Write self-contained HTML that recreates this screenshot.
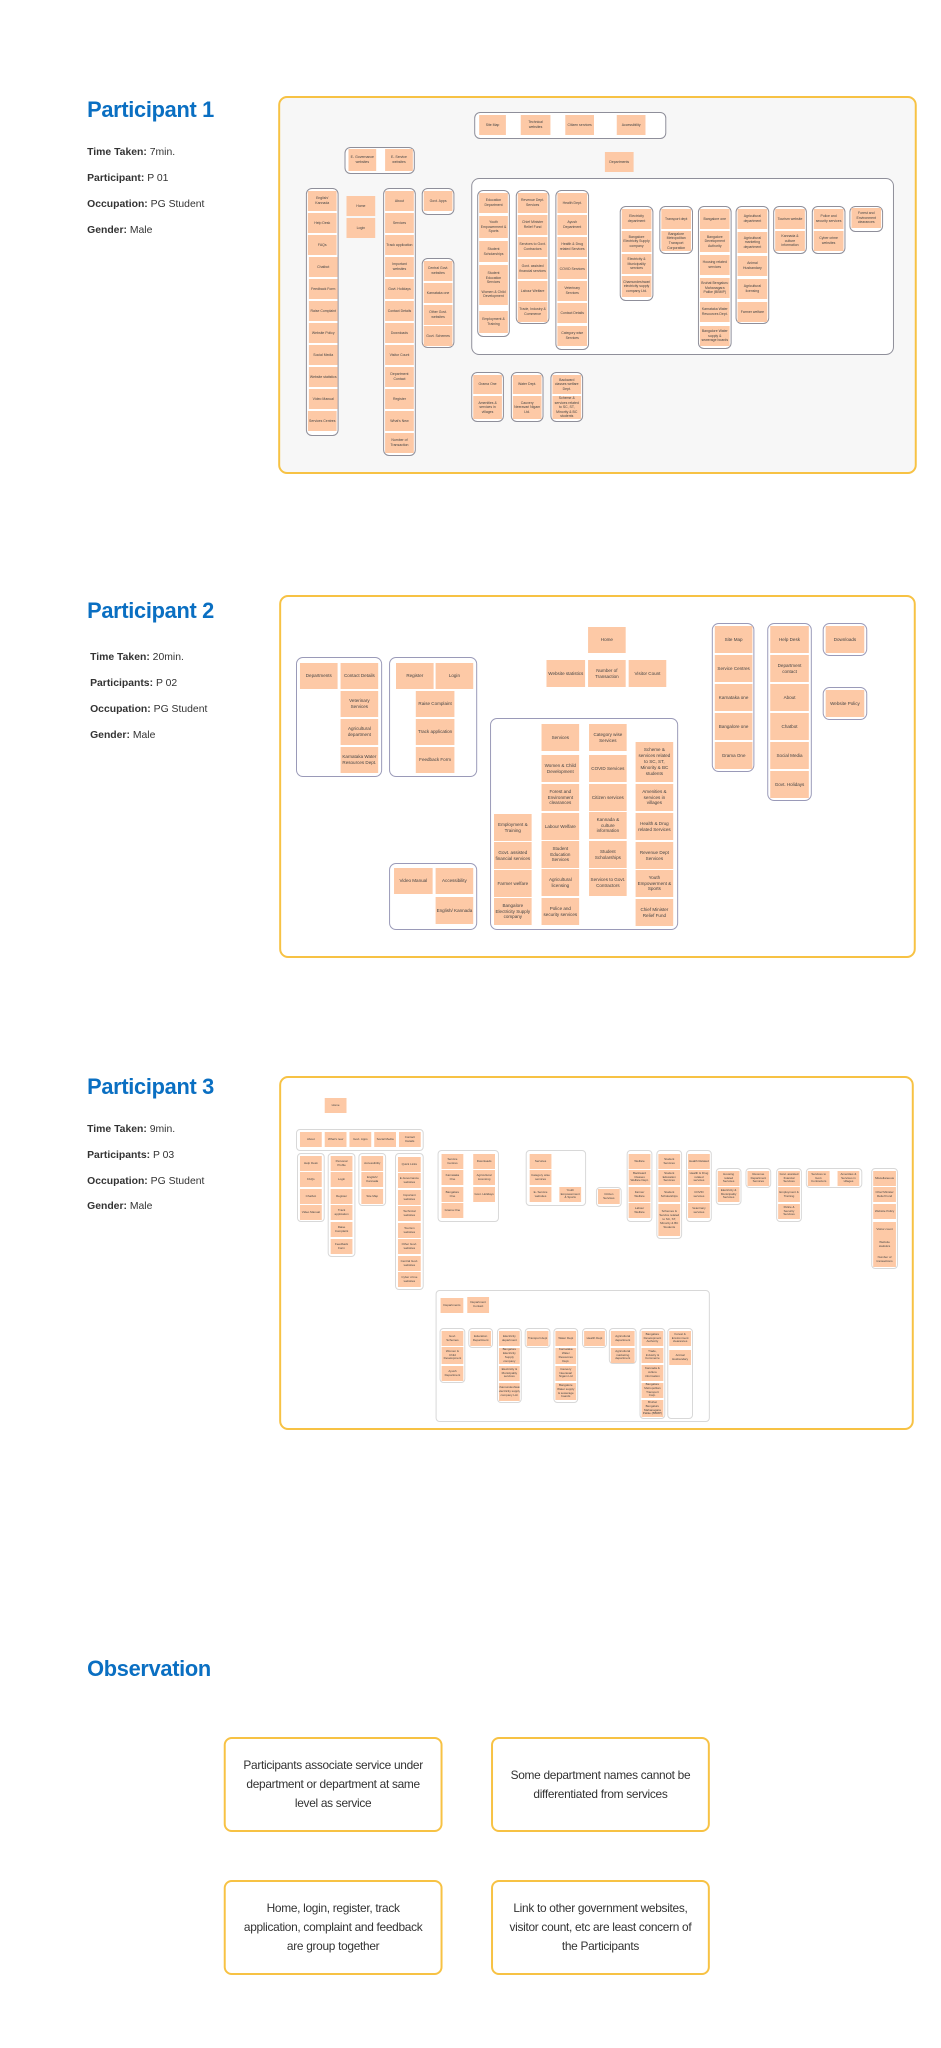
<!DOCTYPE html>
<html><head><meta charset="utf-8"><style>
*{margin:0;padding:0;box-sizing:border-box}
body{width:941px;height:2048px;background:#fff;position:relative;font-family:"Liberation Sans",sans-serif;overflow:hidden}
#w{position:absolute;left:0;top:0;width:941px;height:2048px;transform:scaleX(0.99);transform-origin:0 0}
.t{position:absolute;left:88px;color:#0a6fc2;font:bold 22px "Liberation Sans",sans-serif;letter-spacing:-0.3px}
.i{position:absolute;left:88px;font-size:10.5px;color:#333}
.i b{font-weight:bold}
.p{position:absolute;border:2px solid #f7c244;border-radius:9px}
.g{position:absolute;border:1px solid #8f8f9a;border-radius:6px;background:#fff}
.g2{position:absolute;border:1px solid #9a9ab8;border-radius:7px;background:#fff}
.g3{position:absolute;border:1px solid #d8d8d8;border-radius:4px;background:#fff}
.n{position:absolute;background:#fdc9a6;display:flex;align-items:center;justify-content:center;text-align:center;color:#444;font-size:3.5px;line-height:1.3;overflow:hidden;padding:1px}
.m{font-size:4.6px}
.s{font-size:3px}
.o{position:absolute;border:2px solid #f7c244;border-radius:8px;display:flex;align-items:center;justify-content:center;text-align:center;font-size:12px;letter-spacing:-0.3px;line-height:19px;color:#333;padding:0 14px}
</style></head><body><div id="w">

<!-- Participant 1 -->
<div class="t" style="top:97px">Participant 1</div>
<div class="i" style="top:146px"><b>Time Taken:</b> 7min.</div>
<div class="i" style="top:172px"><b>Participant:</b> P 01</div>
<div class="i" style="top:198px"><b>Occupation:</b> PG Student</div>
<div class="i" style="top:224px"><b>Gender:</b> Male</div>
<div class="p" style="left:281px;top:96px;width:645px;height:378px;background:#f7f7f7"></div>

<div class="g" style="left:479px;top:112px;width:194px;height:27px"></div>
<div class="n" style="left:484px;top:115px;width:27px;height:20px">Site Map</div>
<div class="n" style="left:526px;top:115px;width:30px;height:20px">Technical websites</div>
<div class="n" style="left:571px;top:115px;width:29px;height:20px">Citizen services</div>
<div class="n" style="left:623px;top:115px;width:29px;height:20px">Accessibility</div>

<div class="g" style="left:348px;top:147px;width:71px;height:27px"></div>
<div class="n" style="left:352px;top:149px;width:28px;height:22px">E- Governance websites</div>
<div class="n" style="left:389px;top:149px;width:28px;height:22px">E- Service websites</div>
<div class="n" style="left:611px;top:152px;width:29px;height:20px">Departments</div>

<div class="g" style="left:309px;top:188px;width:33px;height:248px"></div>
<div class="n" style="left:311px;top:191px;width:29px;height:20px">English/ Kannada</div>
<div class="n" style="left:311px;top:213px;width:29px;height:20px">Help Desk</div>
<div class="n" style="left:311px;top:235px;width:29px;height:20px">FAQs</div>
<div class="n" style="left:312px;top:257px;width:29px;height:20px">Chatbot</div>
<div class="n" style="left:312px;top:279px;width:29px;height:20px">Feedback Form</div>
<div class="n" style="left:312px;top:301px;width:29px;height:20px">Raise Complaint</div>
<div class="n" style="left:312px;top:323px;width:29px;height:20px">Website Policy</div>
<div class="n" style="left:312px;top:345px;width:29px;height:20px">Social Media</div>
<div class="n" style="left:312px;top:367px;width:29px;height:20px">Website statistics</div>
<div class="n" style="left:312px;top:389px;width:29px;height:20px">Video Manual</div>
<div class="n" style="left:311px;top:411px;width:29px;height:20px">Services Centres</div>

<div class="n" style="left:350px;top:196px;width:29px;height:20px">Home</div>
<div class="n" style="left:350px;top:218px;width:29px;height:20px">Login</div>

<div class="g" style="left:387px;top:188px;width:33px;height:268px"></div>
<div class="n" style="left:389px;top:191px;width:29px;height:20px">About</div>
<div class="n" style="left:389px;top:213px;width:29px;height:20px">Services</div>
<div class="n" style="left:389px;top:235px;width:29px;height:20px">Track application</div>
<div class="n" style="left:389px;top:257px;width:29px;height:20px">Important websites</div>
<div class="n" style="left:389px;top:279px;width:29px;height:20px">Govt. Holidays</div>
<div class="n" style="left:389px;top:301px;width:29px;height:20px">Contact Details</div>
<div class="n" style="left:389px;top:323px;width:29px;height:20px">Downloads</div>
<div class="n" style="left:389px;top:345px;width:29px;height:20px">Visitor Count</div>
<div class="n" style="left:389px;top:367px;width:29px;height:20px">Department Contact</div>
<div class="n" style="left:389px;top:389px;width:29px;height:20px">Register</div>
<div class="n" style="left:389px;top:411px;width:29px;height:20px">What's New</div>
<div class="n" style="left:389px;top:433px;width:29px;height:20px">Number of Transaction</div>

<div class="g" style="left:426px;top:188px;width:33px;height:27px"></div>
<div class="n" style="left:428px;top:191px;width:29px;height:20px">Govt. Apps</div>
<div class="g" style="left:426px;top:258px;width:33px;height:90px"></div>
<div class="n" style="left:428px;top:261px;width:29px;height:20px">Central Govt. websites</div>
<div class="n" style="left:428px;top:283px;width:29px;height:20px">Karnataka one</div>
<div class="n" style="left:428px;top:305px;width:29px;height:20px">Other Govt. websites</div>
<div class="n" style="left:428px;top:326px;width:29px;height:20px">Govt. Schemes</div>

<div class="g" style="left:476px;top:178px;width:427px;height:177px;border-radius:8px"></div>
<div class="g" style="left:482px;top:190px;width:33px;height:147px"></div>
<div class="n" style="left:484px;top:193px;width:29px;height:20px">Education Department</div>
<div class="n" style="left:484px;top:216px;width:29px;height:22px">Youth Empowerment &amp; Sports</div>
<div class="n" style="left:484px;top:241px;width:29px;height:21px">Student Scholarships</div>
<div class="n" style="left:484px;top:265px;width:29px;height:40px">Student Education Services<br><br>Women &amp; Child Development</div>
<div class="n" style="left:484px;top:311px;width:29px;height:22px">Employment &amp; Training</div>
<div class="g" style="left:521px;top:190px;width:34px;height:134px"></div>
<div class="n" style="left:523px;top:193px;width:30px;height:20px">Revenue Dept. Services</div>
<div class="n" style="left:523px;top:215px;width:30px;height:20px">Chief Minister Relief Fund</div>
<div class="n" style="left:523px;top:237px;width:30px;height:20px">Services to Govt. Contractors</div>
<div class="n" style="left:523px;top:259px;width:30px;height:20px">Govt. assisted financial services</div>
<div class="n" style="left:523px;top:281px;width:30px;height:20px">Labour Welfare</div>
<div class="n" style="left:523px;top:302px;width:30px;height:20px">Trade, Industry &amp; Commerce</div>
<div class="g" style="left:561px;top:190px;width:34px;height:160px"></div>
<div class="n" style="left:563px;top:193px;width:30px;height:20px">Health Dept.</div>
<div class="n" style="left:563px;top:215px;width:30px;height:20px">Ayush Department</div>
<div class="n" style="left:563px;top:237px;width:30px;height:20px">Health &amp; Drug related Services</div>
<div class="n" style="left:563px;top:259px;width:30px;height:20px">COVID Services</div>
<div class="n" style="left:563px;top:281px;width:30px;height:20px">Veterinary Services</div>
<div class="n" style="left:563px;top:303px;width:30px;height:20px">Contact Details</div>
<div class="n" style="left:563px;top:326px;width:30px;height:20px">Category wise Services</div>

<div class="g" style="left:626px;top:206px;width:34px;height:95px"></div>
<div class="n" style="left:628px;top:209px;width:30px;height:20px">Electricity department</div>
<div class="n" style="left:628px;top:231px;width:30px;height:21px">Bangalore Electricity Supply company</div>
<div class="n" style="left:628px;top:254px;width:30px;height:20px">Electricity &amp; Municipality services</div>
<div class="n" style="left:628px;top:276px;width:30px;height:21px">Chamundeshwari electricity supply company Ltd.</div>
<div class="g" style="left:666px;top:206px;width:34px;height:48px"></div>
<div class="n" style="left:668px;top:209px;width:30px;height:20px">Transport dept</div>
<div class="n" style="left:668px;top:231px;width:30px;height:20px">Bangalore Metropolitan Transport Corporation</div>
<div class="g" style="left:705px;top:206px;width:34px;height:143px"></div>
<div class="n" style="left:707px;top:209px;width:30px;height:20px">Bangalore one</div>
<div class="n" style="left:707px;top:231px;width:30px;height:21px">Bangalore Development Authority</div>
<div class="n" style="left:707px;top:255px;width:30px;height:20px">Housing related services</div>
<div class="n" style="left:707px;top:278px;width:30px;height:20px">Bruhat Bengaluru Mahanagara Palike (BBMP)</div>
<div class="n" style="left:707px;top:302px;width:30px;height:20px">Karnataka Water Resources Dept.</div>
<div class="n" style="left:707px;top:326px;width:30px;height:20px">Bangalore Water supply &amp; sewerage boards</div>
<div class="g" style="left:743px;top:206px;width:34px;height:118px"></div>
<div class="n" style="left:745px;top:209px;width:30px;height:20px">Agricultural department</div>
<div class="n" style="left:745px;top:232px;width:30px;height:21px">Agricultural marketing department</div>
<div class="n" style="left:745px;top:256px;width:30px;height:20px">Animal Husbandary</div>
<div class="n" style="left:745px;top:279px;width:30px;height:20px">Agricultural licensing</div>
<div class="n" style="left:745px;top:302px;width:30px;height:20px">Farmer welfare</div>
<div class="g" style="left:781px;top:206px;width:34px;height:48px"></div>
<div class="n" style="left:783px;top:209px;width:30px;height:20px">Tourism website</div>
<div class="n" style="left:783px;top:231px;width:30px;height:20px">Kannada &amp; culture information</div>
<div class="g" style="left:820px;top:206px;width:34px;height:48px"></div>
<div class="n" style="left:822px;top:209px;width:30px;height:20px">Police and security services</div>
<div class="n" style="left:822px;top:231px;width:30px;height:20px">Cyber crime websites</div>
<div class="g" style="left:858px;top:206px;width:34px;height:26px"></div>
<div class="n" style="left:860px;top:208px;width:30px;height:20px">Forest and Environment clearances</div>

<div class="g" style="left:476px;top:372px;width:33px;height:50px"></div>
<div class="n" style="left:478px;top:375px;width:29px;height:19px">Grama One</div>
<div class="n" style="left:478px;top:396px;width:29px;height:23px">Amenities &amp; services in villages</div>
<div class="g" style="left:516px;top:372px;width:33px;height:50px"></div>
<div class="n" style="left:518px;top:375px;width:29px;height:19px">Water Dept.</div>
<div class="n" style="left:518px;top:396px;width:29px;height:23px">Cauvery Neeravari Nigam Ltd.</div>
<div class="g" style="left:556px;top:372px;width:33px;height:50px"></div>
<div class="n" style="left:558px;top:375px;width:29px;height:19px">Backward classes welfare Dept.</div>
<div class="n" style="left:558px;top:396px;width:29px;height:23px">Scheme &amp; services related to SC, ST, Minority &amp; BC students</div>

<!-- Participant 2 -->
<div class="t" style="top:598px">Participant 2</div>
<div class="i" style="left:91px;top:651px"><b>Time Taken:</b> 20min.</div>
<div class="i" style="left:91px;top:677px"><b>Participants:</b> P 02</div>
<div class="i" style="left:91px;top:703px"><b>Occupation:</b> PG Student</div>
<div class="i" style="left:91px;top:729px"><b>Gender:</b> Male</div>
<div class="p" style="left:282px;top:595px;width:643px;height:363px;background:#fff"></div>

<div class="n m" style="left:594px;top:627px;width:38px;height:26px">Home</div>
<div class="n m" style="left:552px;top:660px;width:39px;height:27px">Website statistics</div>
<div class="n m" style="left:594px;top:660px;width:38px;height:27px">Number of Transaction</div>
<div class="n m" style="left:635px;top:660px;width:38px;height:27px">Visitor Count</div>

<div class="g2" style="left:299px;top:657px;width:87px;height:120px"></div>
<div class="n m" style="left:303px;top:663px;width:38px;height:26px">Departments</div>
<div class="n m" style="left:344px;top:663px;width:38px;height:26px">Contact Details</div>
<div class="n m" style="left:344px;top:691px;width:38px;height:26px">Veterinary Services</div>
<div class="n m" style="left:344px;top:719px;width:38px;height:26px">Agricultural department</div>
<div class="n m" style="left:344px;top:747px;width:38px;height:26px">Karnataka Water Resources Dept.</div>

<div class="g2" style="left:393px;top:657px;width:89px;height:120px"></div>
<div class="n m" style="left:400px;top:663px;width:38px;height:26px">Register</div>
<div class="n m" style="left:440px;top:663px;width:38px;height:26px">Login</div>
<div class="n m" style="left:420px;top:691px;width:39px;height:26px">Raise Complaint</div>
<div class="n m" style="left:420px;top:719px;width:39px;height:26px">Track application</div>
<div class="n m" style="left:420px;top:747px;width:39px;height:26px">Feedback Form</div>

<div class="g2" style="left:393px;top:863px;width:89px;height:67px"></div>
<div class="n m" style="left:398px;top:868px;width:39px;height:26px">Video Manual</div>
<div class="n m" style="left:440px;top:868px;width:38px;height:26px">Accessibility</div>
<div class="n m" style="left:440px;top:897px;width:38px;height:27px">English/ Kannada</div>

<div class="g2" style="left:495px;top:718px;width:190px;height:212px"></div>
<div class="n m" style="left:547px;top:724px;width:38px;height:27px">Services</div>
<div class="n m" style="left:547px;top:755px;width:38px;height:27px">Women &amp; Child Development</div>
<div class="n m" style="left:547px;top:784px;width:38px;height:27px">Forest and Environment clearances</div>
<div class="n m" style="left:547px;top:813px;width:38px;height:27px">Labour Welfare</div>
<div class="n m" style="left:547px;top:841px;width:38px;height:27px">Student Education Services</div>
<div class="n m" style="left:547px;top:869px;width:38px;height:27px">Agricultural licensing</div>
<div class="n m" style="left:547px;top:898px;width:38px;height:27px">Police and security services</div>
<div class="n m" style="left:595px;top:724px;width:38px;height:27px">Category wise Services</div>
<div class="n m" style="left:595px;top:755px;width:38px;height:27px">COVID Services</div>
<div class="n m" style="left:595px;top:784px;width:38px;height:27px">Citizen services</div>
<div class="n m" style="left:595px;top:812px;width:38px;height:27px">Kannada &amp; culture information</div>
<div class="n m" style="left:595px;top:841px;width:38px;height:27px">Student Scholarships</div>
<div class="n m" style="left:595px;top:869px;width:38px;height:27px">Services to Govt. Contractors</div>
<div class="n m" style="left:642px;top:742px;width:38px;height:40px">Scheme &amp; services related to SC, ST, Minority &amp; BC students</div>
<div class="n m" style="left:642px;top:784px;width:38px;height:27px">Amenities &amp; services in villages</div>
<div class="n m" style="left:642px;top:813px;width:38px;height:27px">Health &amp; Drug related Services</div>
<div class="n m" style="left:642px;top:842px;width:38px;height:27px">Revenue Dept Services</div>
<div class="n m" style="left:642px;top:870px;width:38px;height:27px">Youth Empowerment &amp; Sports</div>
<div class="n m" style="left:642px;top:899px;width:38px;height:27px">Chief Minister Relief Fund</div>
<div class="n m" style="left:499px;top:814px;width:38px;height:27px">Employment &amp; Training</div>
<div class="n m" style="left:499px;top:842px;width:38px;height:27px">Govt. assisted financial services</div>
<div class="n m" style="left:499px;top:870px;width:38px;height:27px">Farmer welfare</div>
<div class="n m" style="left:499px;top:898px;width:38px;height:27px">Bangalore Electricity Supply company</div>

<div class="g2" style="left:719px;top:623px;width:43px;height:149px"></div>
<div class="n m" style="left:722px;top:626px;width:38px;height:27px">Site Map</div>
<div class="n m" style="left:722px;top:655px;width:38px;height:27px">Service Centres</div>
<div class="n m" style="left:722px;top:684px;width:38px;height:27px">Karnataka one</div>
<div class="n m" style="left:722px;top:713px;width:38px;height:27px">Bangalore one</div>
<div class="n m" style="left:722px;top:742px;width:38px;height:27px">Grama One</div>
<div class="g2" style="left:775px;top:623px;width:45px;height:178px"></div>
<div class="n m" style="left:778px;top:626px;width:39px;height:27px">Help Desk</div>
<div class="n m" style="left:778px;top:655px;width:39px;height:27px">Department contact</div>
<div class="n m" style="left:778px;top:684px;width:39px;height:27px">About</div>
<div class="n m" style="left:778px;top:713px;width:39px;height:27px">Chatbot</div>
<div class="n m" style="left:778px;top:742px;width:39px;height:27px">Social Media</div>
<div class="n m" style="left:778px;top:771px;width:39px;height:27px">Govt. Holidays</div>
<div class="g2" style="left:831px;top:623px;width:45px;height:33px"></div>
<div class="n m" style="left:834px;top:626px;width:39px;height:27px">Downloads</div>
<div class="g2" style="left:831px;top:687px;width:45px;height:33px"></div>
<div class="n m" style="left:834px;top:690px;width:39px;height:27px">Website Policy</div>

<!-- Participant 3 -->
<div class="t" style="top:1074px">Participant 3</div>
<div class="i" style="top:1123px"><b>Time Taken:</b> 9min.</div>
<div class="i" style="top:1149px"><b>Participants:</b> P 03</div>
<div class="i" style="top:1175px"><b>Occupation:</b> PG Student</div>
<div class="i" style="top:1200px"><b>Gender:</b> Male</div>
<div class="p" style="left:282px;top:1076px;width:641px;height:354px;background:#fff"></div>

<div class="n s" style="left:328px;top:1098px;width:22px;height:15px">Home</div>
<div class="g3" style="left:299px;top:1129px;width:129px;height:22px"></div>
<div class="n s" style="left:303px;top:1132px;width:22px;height:15px">About</div>
<div class="n s" style="left:328px;top:1132px;width:22px;height:15px">What's new</div>
<div class="n s" style="left:353px;top:1132px;width:22px;height:15px">Govt. Apps</div>
<div class="n s" style="left:378px;top:1132px;width:22px;height:15px">Social Media</div>
<div class="n s" style="left:403px;top:1132px;width:22px;height:15px">Contact Details</div>

<div class="g3" style="left:300px;top:1153px;width:28px;height:69px"></div>
<div class="n s" style="left:303px;top:1156px;width:22px;height:15px">Help Desk</div>
<div class="n s" style="left:303px;top:1172px;width:22px;height:15px">FAQs</div>
<div class="n s" style="left:303px;top:1189px;width:22px;height:15px">Chatbot</div>
<div class="n s" style="left:303px;top:1205px;width:22px;height:15px">Video Manual</div>
<div class="g3" style="left:331px;top:1153px;width:28px;height:104px"></div>
<div class="n s" style="left:334px;top:1156px;width:22px;height:15px">Personal Profile</div>
<div class="n s" style="left:334px;top:1172px;width:22px;height:15px">Login</div>
<div class="n s" style="left:334px;top:1189px;width:22px;height:15px">Register</div>
<div class="n s" style="left:334px;top:1205px;width:22px;height:15px">Track application</div>
<div class="n s" style="left:334px;top:1222px;width:22px;height:15px">Raise Complaint</div>
<div class="n s" style="left:334px;top:1239px;width:22px;height:15px">Feedback Form</div>
<div class="g3" style="left:362px;top:1153px;width:28px;height:53px"></div>
<div class="n s" style="left:365px;top:1156px;width:22px;height:15px">Accessibility</div>
<div class="n s" style="left:365px;top:1172px;width:22px;height:15px">English/ Kannada</div>
<div class="n s" style="left:365px;top:1189px;width:22px;height:15px">Site Map</div>
<div class="g3" style="left:399px;top:1153px;width:29px;height:137px"></div>
<div class="n s" style="left:402px;top:1157px;width:23px;height:15px">Quick Links</div>
<div class="n s" style="left:402px;top:1173px;width:23px;height:15px">E-Governance websites</div>
<div class="n s" style="left:402px;top:1190px;width:23px;height:15px">Important websites</div>
<div class="n s" style="left:402px;top:1206px;width:23px;height:15px">Technical websites</div>
<div class="n s" style="left:402px;top:1223px;width:23px;height:15px">Tourism websites</div>
<div class="n s" style="left:402px;top:1239px;width:23px;height:15px">Other Govt. websites</div>
<div class="n s" style="left:402px;top:1256px;width:23px;height:15px">Central Govt. websites</div>
<div class="n s" style="left:402px;top:1272px;width:23px;height:15px">Cyber crime websites</div>

<div class="g3" style="left:442px;top:1150px;width:62px;height:72px"></div>
<div class="n s" style="left:446px;top:1154px;width:22px;height:15px">Service Centres</div>
<div class="n s" style="left:446px;top:1170px;width:22px;height:15px">Karnataka One</div>
<div class="n s" style="left:446px;top:1187px;width:22px;height:15px">Bangalore One</div>
<div class="n s" style="left:446px;top:1203px;width:22px;height:15px">Grama One</div>
<div class="n s" style="left:478px;top:1154px;width:22px;height:15px">Downloads</div>
<div class="n s" style="left:478px;top:1170px;width:22px;height:15px">Agricultural Licensing</div>
<div class="n s" style="left:478px;top:1187px;width:22px;height:15px">Govt. Holidays</div>
<div class="g3" style="left:531px;top:1150px;width:61px;height:56px"></div>
<div class="n s" style="left:535px;top:1154px;width:22px;height:15px">Services</div>
<div class="n s" style="left:535px;top:1170px;width:22px;height:15px">Category wise services</div>
<div class="n s" style="left:535px;top:1187px;width:22px;height:15px">E- Service websites</div>
<div class="n s" style="left:565px;top:1187px;width:22px;height:15px">Youth Empowerment &amp; Sports</div>
<div class="g3" style="left:602px;top:1187px;width:26px;height:20px"></div>
<div class="n s" style="left:604px;top:1189px;width:22px;height:15px">Citizen Services</div>
<div class="g3" style="left:633px;top:1150px;width:26px;height:72px"></div>
<div class="n s" style="left:635px;top:1154px;width:22px;height:15px">Welfare</div>
<div class="n s" style="left:635px;top:1170px;width:22px;height:15px">Backward Classes Welfare Dept.</div>
<div class="n s" style="left:635px;top:1187px;width:22px;height:15px">Farmer Welfare</div>
<div class="n s" style="left:635px;top:1203px;width:22px;height:15px">Labour Welfare</div>
<div class="g3" style="left:663px;top:1150px;width:26px;height:89px"></div>
<div class="n s" style="left:665px;top:1154px;width:22px;height:15px">Student Services</div>
<div class="n s" style="left:665px;top:1170px;width:22px;height:15px">Student Education Services</div>
<div class="n s" style="left:665px;top:1187px;width:22px;height:15px">Student Scholarships</div>
<div class="n s" style="left:665px;top:1204px;width:22px;height:32px">Schemes &amp; Service related to SC, ST, Minority &amp; BC Students</div>
<div class="g3" style="left:693px;top:1150px;width:26px;height:72px"></div>
<div class="n s" style="left:695px;top:1154px;width:22px;height:15px">Health Related</div>
<div class="n s" style="left:695px;top:1170px;width:22px;height:15px">Health &amp; Drug related services</div>
<div class="n s" style="left:695px;top:1187px;width:22px;height:15px">COVID services</div>
<div class="n s" style="left:695px;top:1203px;width:22px;height:15px">Veterinary services</div>
<div class="g3" style="left:723px;top:1168px;width:26px;height:37px"></div>
<div class="n s" style="left:725px;top:1171px;width:22px;height:15px">Housing related Services</div>
<div class="n s" style="left:725px;top:1187px;width:22px;height:15px">Electricity &amp; Municipality Services</div>
<div class="g3" style="left:753px;top:1168px;width:26px;height:20px"></div>
<div class="n s" style="left:755px;top:1171px;width:22px;height:15px">Revenue Department Services</div>
<div class="g3" style="left:784px;top:1168px;width:26px;height:54px"></div>
<div class="n s" style="left:786px;top:1171px;width:22px;height:15px">Govt. assisted financial Services</div>
<div class="n s" style="left:786px;top:1187px;width:22px;height:15px">Employment &amp; Training</div>
<div class="n s" style="left:786px;top:1204px;width:22px;height:15px">Police &amp; Security Services</div>
<div class="g3" style="left:814px;top:1168px;width:57px;height:20px"></div>
<div class="n s" style="left:816px;top:1171px;width:22px;height:15px">Services to Govt. Contractors</div>
<div class="n s" style="left:846px;top:1171px;width:22px;height:15px">Amenities &amp; Services in villages</div>
<div class="g3" style="left:880px;top:1168px;width:27px;height:101px"></div>
<div class="n s" style="left:882px;top:1171px;width:23px;height:15px">Miscellaneous</div>
<div class="n s" style="left:882px;top:1187px;width:23px;height:15px">Chief Minister Relief Fund</div>
<div class="n s" style="left:882px;top:1204px;width:23px;height:15px">Website Policy</div>
<div class="n s" style="left:882px;top:1222px;width:23px;height:15px">Visitor count</div>
<div class="n s" style="left:882px;top:1237px;width:23px;height:15px">Website statistics</div>
<div class="n s" style="left:882px;top:1252px;width:23px;height:15px">Number of transactions</div>

<div class="g3" style="left:440px;top:1290px;width:277px;height:132px"></div>
<div class="n s" style="left:445px;top:1298px;width:23px;height:15px">Departments</div>
<div class="n s" style="left:472px;top:1297px;width:22px;height:16px">Department Contact</div>
<div class="g3" style="left:444px;top:1328px;width:26px;height:55px"></div>
<div class="n s" style="left:446px;top:1331px;width:22px;height:15px">Govt. Schemes</div>
<div class="n s" style="left:446px;top:1347px;width:22px;height:17px">Women &amp; Child Development</div>
<div class="n s" style="left:446px;top:1366px;width:22px;height:15px">Ayush Department</div>
<div class="g3" style="left:473px;top:1328px;width:25px;height:20px"></div>
<div class="n s" style="left:475px;top:1331px;width:21px;height:15px">Education Department</div>
<div class="g3" style="left:502px;top:1328px;width:25px;height:75px"></div>
<div class="n s" style="left:504px;top:1331px;width:21px;height:15px">Electricity department</div>
<div class="n s" style="left:504px;top:1348px;width:21px;height:16px">Bangalore Electricity Supply company</div>
<div class="n s" style="left:504px;top:1366px;width:21px;height:15px">Electricity &amp; Municipality services</div>
<div class="n s" style="left:504px;top:1383px;width:21px;height:18px">Chamundeshwari electricity supply company Ltd.</div>
<div class="g3" style="left:530px;top:1328px;width:26px;height:20px"></div>
<div class="n s" style="left:532px;top:1331px;width:22px;height:15px">Transport dept</div>
<div class="g3" style="left:559px;top:1328px;width:25px;height:75px"></div>
<div class="n s" style="left:561px;top:1331px;width:21px;height:15px">Water Dept</div>
<div class="n s" style="left:561px;top:1348px;width:21px;height:16px">Karnataka Water Resources Dept.</div>
<div class="n s" style="left:561px;top:1366px;width:21px;height:15px">Cauvery Neeravari Nigam Ltd</div>
<div class="n s" style="left:561px;top:1383px;width:21px;height:17px">Bangalore Water supply &amp; sewerage boards</div>
<div class="g3" style="left:588px;top:1328px;width:25px;height:20px"></div>
<div class="n s" style="left:590px;top:1331px;width:21px;height:15px">Health Dept</div>
<div class="g3" style="left:615px;top:1328px;width:28px;height:36px"></div>
<div class="n s" style="left:617px;top:1331px;width:24px;height:15px">Agricultural department</div>
<div class="n s" style="left:617px;top:1348px;width:24px;height:15px">Agricultural marketing department</div>
<div class="g3" style="left:646px;top:1328px;width:26px;height:91px"></div>
<div class="n s" style="left:648px;top:1331px;width:22px;height:15px">Bangalore Development Authority</div>
<div class="n s" style="left:648px;top:1348px;width:22px;height:15px">Trade, Industry &amp; Commerce</div>
<div class="n s" style="left:648px;top:1365px;width:22px;height:16px">Kannada &amp; culture information</div>
<div class="n s" style="left:648px;top:1383px;width:22px;height:15px">Bangalore Metropolitan Transport Corp.</div>
<div class="n s" style="left:648px;top:1400px;width:22px;height:17px">Bruhat Bengaluru Mahanagara Palike (BBMP)</div>
<div class="g3" style="left:674px;top:1328px;width:26px;height:91px"></div>
<div class="n s" style="left:676px;top:1331px;width:22px;height:15px">Forest &amp; Environment clearances</div>
<div class="n s" style="left:676px;top:1350px;width:22px;height:15px">Animal Husbandary</div>

<!-- Observation -->
<div class="t" style="top:1656px">Observation</div>
<div class="o" style="left:226px;top:1737px;width:221px;height:95px">Participants associate service under department or department at same level as service</div>
<div class="o" style="left:496px;top:1737px;width:221px;height:95px">Some department names cannot be differentiated from services</div>
<div class="o" style="left:226px;top:1880px;width:221px;height:95px">Home, login, register, track application, complaint and feedback are group together</div>
<div class="o" style="left:496px;top:1880px;width:221px;height:95px">Link to other government websites, visitor count, etc are least concern of the Participants</div>

</div></body></html>
